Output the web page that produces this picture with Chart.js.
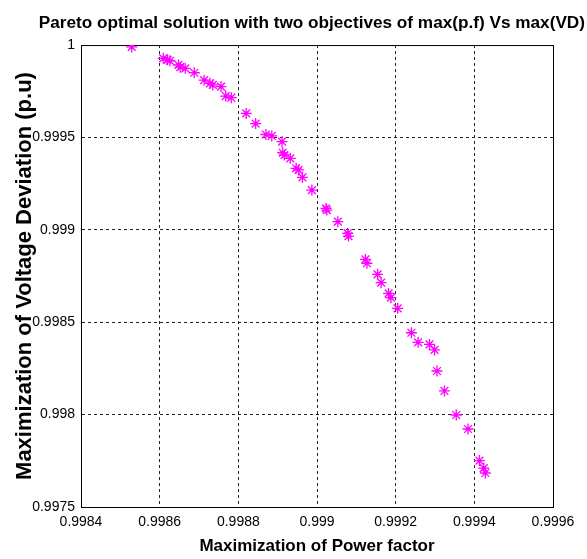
<!DOCTYPE html>
<html>
<head>
<meta charset="utf-8">
<script src="https://cdn.jsdelivr.net/npm/chart.js@4"></script>
<style>
  html, body { margin: 0; padding: 0; background: #fff; }
  #wrap { width: 587px; height: 559px; }
</style>
</head>
<body>
<div id="wrap"><canvas id="myChart" width="587" height="559"></canvas></div>
<script>
// datos: factor de potencia (x) y desviacion de voltaje (y)
const powerFactor = [
  0.998529, 0.998609, 0.998620, 0.998626, 0.998648, 0.998652, 0.998665, 0.998688,
  0.998713, 0.998728, 0.998735, 0.998756, 0.998768, 0.998782, 0.998820, 0.998844,
  0.998870, 0.998885, 0.998911, 0.998913, 0.998917, 0.998932, 0.998947, 0.998953,
  0.998963, 0.998987, 0.999023, 0.999025, 0.999053, 0.999078, 0.999080, 0.999123,
  0.999127, 0.999154, 0.999163, 0.999182, 0.999188, 0.999205, 0.999240, 0.999257,
  0.999286, 0.999299, 0.999305, 0.999324, 0.999354, 0.999384, 0.999413, 0.999424,
  0.999428
];
const voltageDev = [
  0.999990, 0.999928, 0.999920, 0.999915, 0.999892, 0.999880, 0.999874, 0.999850,
  0.999810, 0.999793, 0.999784, 0.999775, 0.999724, 0.999715, 0.999630, 0.999575,
  0.999516, 0.999508, 0.999477, 0.999417, 0.999405, 0.999387, 0.999333, 0.999324,
  0.999284, 0.999215, 0.999116, 0.999107, 0.999044, 0.998981, 0.998966, 0.998840,
  0.998819, 0.998759, 0.998714, 0.998656, 0.998633, 0.998575, 0.998443, 0.998391,
  0.998380, 0.998350, 0.998236, 0.998128, 0.997998, 0.997922, 0.997751, 0.997710,
  0.997684
];
const xTicks = [0.9984, 0.9986, 0.9988, 0.999, 0.9992, 0.9994, 0.9996];
const yTicks = [0.9975, 0.998, 0.9985, 0.999, 0.9995, 1];

const puntos = powerFactor.map((pf, i) => ({ x: pf, y: voltageDev[i] }));

// marco negro alrededor del area del grafico (como en matlab)
const boxPlugin = {
  id: "boxPlugin",
  beforeDatasetsDraw(chart) {
    const { ctx, chartArea: a } = chart;
    ctx.save();
    ctx.strokeStyle = "#000";
    ctx.lineWidth = 1;
    ctx.strokeRect(a.left + 0.5, a.top + 0.5, a.right - a.left, a.bottom - a.top);
    ctx.restore();
  }
};

const formato = (v) => String(parseFloat(v.toFixed(4)));
// sin linea punteada en los bordes, ahi va el marco
const gridColor = (c) => (c.index === 0 || c.index === c.scale.ticks.length - 1) ? "rgba(0,0,0,0)" : "#222";

const fuente = "'Liberation Sans', Arial, sans-serif";

const config = {
  type: "scatter",
  data: {
    datasets: [{
      data: puntos,
      pointStyle: "star",
      pointRadius: 5.5,
      borderColor: "#ff00ff",
      backgroundColor: "#ff00ff",
      borderWidth: 1.3
    }]
  },
  options: {
    responsive: false,
    animation: false,
    layout: { padding: { left: 0, right: 2, top: 0, bottom: 0 } },
    plugins: {
      legend: { display: false },
      tooltip: { enabled: false },
      title: {
        display: true,
        text: "Pareto optimal solution with two objectives of max(p.f) Vs max(VD)",
        align: "end",
        color: "#000",
        font: { family: fuente, size: 17.2, weight: "bold", lineHeight: 1.2 },
        padding: { top: 13, bottom: 11.4 }
      }
    },
    scales: {
      x: {
        type: "linear",
        min: 0.9984,
        max: 0.9996,
        afterBuildTicks: (s) => { s.ticks = xTicks.map((v) => ({ value: v })); },
        afterFit: (s) => { s.height = 52; s.paddingRight = 34; },
        ticks: {
          callback: formato,
          color: "#000",
          padding: 7,
          maxRotation: 0,
          font: { family: fuente, size: 14 }
        },
        grid: { color: gridColor, drawTicks: false },
        border: { display: true, color: "#000", width: 1, dash: [3, 3] }, // en v4 dash es para la grilla
        title: {
          display: true,
          text: "Maximization of Power factor",
          color: "#000",
          font: { family: fuente, size: 17, weight: "bold", lineHeight: 1.2 },
          padding: { top: 0, bottom: 2 }
        }
      },
      y: {
        type: "linear",
        min: 0.9975,
        max: 1,
        afterBuildTicks: (s) => { s.ticks = yTicks.map((v) => ({ value: v })); },
        afterFit: (s) => { s.width = 81; },
        ticks: {
          callback: formato,
          color: "#000",
          padding: 6,
          font: { family: fuente, size: 14 }
        },
        grid: { color: gridColor, drawTicks: false },
        border: { display: true, color: "#000", width: 1, dash: [3, 3] },
        title: {
          display: true,
          text: "Maximization of Voltage Deviation (p.u)",
          color: "#000",
          font: { family: fuente, size: 22, weight: "bold", lineHeight: 1.2 },
          padding: { top: 12, bottom: 0 }
        }
      }
    }
  },
  plugins: [boxPlugin]
};

const chartDom = document.getElementById("myChart");
chartDom.myChart = new Chart(chartDom.getContext("2d"), config);
</script>
</body>
</html>
